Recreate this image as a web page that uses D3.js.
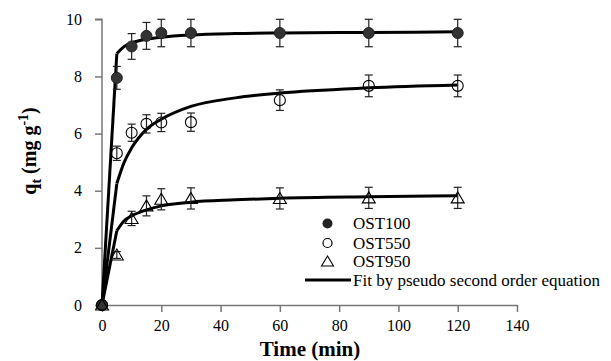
<!DOCTYPE html>
<meta charset="utf-8">
<style>
    body { margin: 0; background: #fff; }
    svg, svg text { font-family: "Liberation Serif", "Times New Roman", Times, serif !important; fill: #000; }
    .axis path, .axis line { stroke: #777; stroke-width: 1.5px; }
    .axis text { font-size: 16px; }
    .fit { fill: none; stroke: #000; stroke-width: 3px; }
    .err { stroke: #222; stroke-width: 1.2px; }
</style>
<body>
<script src="https://d3js.org/d3.v7.min.js"></script>
<script>
// sampling times (min)
var times = [0, 5, 10, 15, 20, 30, 60, 90, 120];

// measured uptake q_t (mg/g) and error bars
var ost100 = [0, 7.95, 9.05, 9.42, 9.52, 9.52, 9.52, 9.52, 9.52];
var ost100Err = [0, 0.4, 0.45, 0.47, 0.48, 0.48, 0.48, 0.48, 0.48];
var ost550 = [0, 5.31, 6.03, 6.34, 6.39, 6.4, 7.17, 7.67, 7.67];
var ost550Err = [0, 0.25, 0.3, 0.32, 0.32, 0.32, 0.36, 0.38, 0.38];
var ost950 = [0, 1.75, 3.03, 3.47, 3.7, 3.73, 3.73, 3.75, 3.75];
var ost950Err = [0, 0.12, 0.25, 0.35, 0.37, 0.37, 0.37, 0.37, 0.37];

// fitted curves
var fitTimes = [0, 5, 7.5, 10, 15, 20, 30, 45, 60, 90, 120];
var fit100 = [0, 8.8, 9.05, 9.17, 9.3, 9.37, 9.45, 9.5, 9.52, 9.54, 9.56];
var fit550 = [0, 4.25, 5.0, 5.5, 6.15, 6.5, 6.95, 7.25, 7.42, 7.6, 7.7];
var fit950 = [0, 2.6, 2.95, 3.12, 3.33, 3.47, 3.6, 3.68, 3.74, 3.79, 3.82];

var xTicks = [0, 20, 40, 60, 80, 100, 120, 140];
var yTicks = [0, 2, 4, 6, 8, 10];
var legendNames = ["OST100", "OST550", "OST950", "Fit by pseudo second order equation"];

var W = 611, H = 361;
var svg = d3.select("body").append("svg").attr("width", W).attr("height", H);

var x = d3.scaleLinear().domain([0, 140]).range([102, 517]);
var y = d3.scaleLinear().domain([0, 10]).range([305, 19.3]);

// axes
svg.append("g").attr("class", "axis")
    .attr("transform", "translate(0," + y(0) + ")")
    .call(d3.axisBottom(x).tickValues(xTicks).tickSize(7).tickPadding(5).tickSizeOuter(0))
    .attr("font-family", null).attr("font-size", null)
    .call(function(g) { g.selectAll("text").attr("dy", "0.85em"); });

svg.append("g").attr("class", "axis")
    .attr("transform", "translate(" + x(0) + ",0)")
    .call(d3.axisLeft(y).tickValues(yTicks).tickSize(7).tickPadding(13).tickSizeOuter(0))
    .attr("font-family", null).attr("font-size", null)
    .call(function(g) { g.select(".domain").attr("d", "M-7," + y(10) + "H0V" + y(0)); });

// axis titles
svg.append("text")
    .attr("x", 310).attr("y", 356)
    .attr("text-anchor", "middle")
    .style("font-size", "21px").style("font-weight", "bold")
    .text("Time (min)");

var yl = svg.append("text")
    .attr("transform", "translate(36,151) rotate(-90)")
    .attr("text-anchor", "middle")
    .style("font-size", "20px").style("font-weight", "bold");
yl.append("tspan").text("q");
yl.append("tspan").attr("dy", 5).style("font-size", "14px").text("t");
yl.append("tspan").attr("dy", -5).text(" (mg g");
yl.append("tspan").attr("dy", -8).style("font-size", "14px").text("-1");
yl.append("tspan").attr("dy", 8).text(")");

// fit lines: straight first step, then smooth
var line = d3.line()
    .x(function(d) { return x(d[0]); })
    .y(function(d) { return y(d[1]); });
var smooth = d3.line()
    .curve(d3.curveMonotoneX)
    .x(function(d) { return x(d[0]); })
    .y(function(d) { return y(d[1]); });

[fit100, fit550, fit950].forEach(function(f) {
    var pts = fitTimes.map(function(t, i) { return [t, f[i]]; });
    svg.append("path").attr("class", "fit").attr("d", line(pts.slice(0, 2)));
    svg.append("path").attr("class", "fit").attr("d", smooth(pts.slice(1)));
});

// symbol drawing
function drawMarker(g, type) {
    if (type === 0) {
        g.append("circle").attr("r", 5.5).attr("fill", "#333").attr("stroke", "#222").attr("stroke-width", 1);
    } else if (type === 1) {
        g.append("circle").attr("r", 5.5).attr("fill", "none").attr("stroke", "#000").attr("stroke-width", 1.1);
    } else {
        g.append("path").attr("d", "M0,-6L6.5,5L-6.5,5Z")
            .attr("fill", "none").attr("stroke", "#000").attr("stroke-width", 1.1);
    }
}

var series = [
    { vals: ost100, err: ost100Err, type: 0 },
    { vals: ost550, err: ost550Err, type: 1 },
    { vals: ost950, err: ost950Err, type: 2 }
];

series.forEach(function(s) {
    times.forEach(function(t, i) {
        var cx = x(t), v = s.vals[i], e = s.err[i];
        if (e > 0) {
            var y1 = y(v + e), y2 = y(v - e);
            svg.append("line").attr("class", "err").attr("x1", cx).attr("x2", cx).attr("y1", y1).attr("y2", y2);
            svg.append("line").attr("class", "err").attr("x1", cx - 4).attr("x2", cx + 4).attr("y1", y1).attr("y2", y1);
            svg.append("line").attr("class", "err").attr("x1", cx - 4).attr("x2", cx + 4).attr("y1", y2).attr("y2", y2);
        }
        var g = svg.append("g").attr("transform", "translate(" + cx + "," + y(v) + ")");
        drawMarker(g, s.type);
    });
});

// legend
var leg = svg.append("g");
var rowY = [223.5, 243, 261.5, 280];
legendNames.forEach(function(name, i) {
    if (i < 3) {
        var g = leg.append("g").attr("transform", "translate(327.5," + rowY[i] + ")");
        if (i === 0) g.append("circle").attr("r", 5).attr("fill", "#222");
        else if (i === 1) g.append("circle").attr("r", 4.5).attr("fill", "none").attr("stroke", "#000").attr("stroke-width", 1.2);
        else g.append("path").attr("d", "M0,-5.5L6,4.5L-6,4.5Z").attr("fill", "none").attr("stroke", "#000").attr("stroke-width", 1.1);
    } else {
        leg.append("line").attr("x1", 305).attr("x2", 351).attr("y1", rowY[i]).attr("y2", rowY[i])
            .attr("stroke", "#000").attr("stroke-width", 3);
    }
    leg.append("text")
        .attr("x", 353).attr("y", rowY[i] + 5.5)
        .style("font-size", "17px")
        .text(name);
});
</script>
</body>
